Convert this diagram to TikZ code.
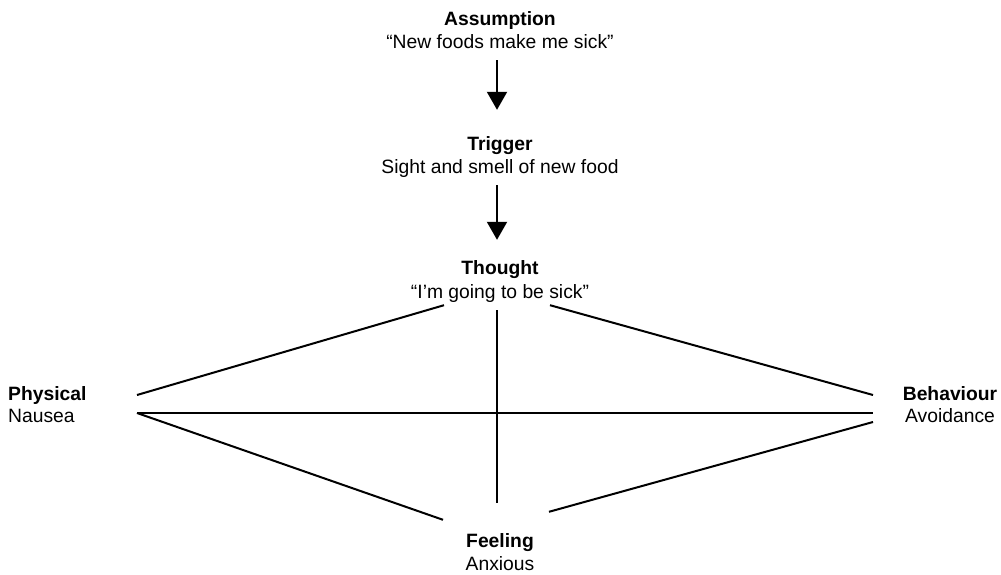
\documentclass[tikz,border=0pt]{standalone}
\usepackage{fontspec}
\setmainfont{Liberation Sans}
\usetikzlibrary{arrows.meta}
\begin{document}
\begin{tikzpicture}[x=1pt,y=-1pt,
  txt/.style={inner sep=0pt, font=\fontsize{19.3}{23}\selectfont, text height=14pt, text depth=4pt},
  ttl/.style={txt, font=\fontsize{19.3}{23}\selectfont\bfseries},
  link/.style={line width=2pt},
  arr/.style={line width=2pt, -{Triangle[width=20pt,length=18pt]}}]
\useasboundingbox (0,0) rectangle (1001,575);
% nodes
\node[ttl, anchor=base] (assumT) at (500,26) {Assumption};
\node[txt, anchor=base] (assum) at (500,49) {“New foods make me sick”};
\node[ttl, anchor=base] (trigT) at (500,150) {Trigger};
\node[txt, anchor=base] (trig) at (500,173) {Sight and smell of new food};
\node[ttl, anchor=base] (thoughtT) at (500,274) {Thought};
\node[txt, anchor=base] (thought) at (500,298) {“I’m going to be sick”};
\node[ttl, anchor=base west] (physT) at (8,400) {Physical};
\node[txt, anchor=base west] (phys) at (8,422) {Nausea};
\node[ttl, anchor=base] (behavT) at (950,400) {Behaviour};
\node[txt, anchor=base] (behav) at (950,422) {Avoidance};
\node[ttl, anchor=base] (feelT) at (500,547) {Feeling};
\node[txt, anchor=base] (feel) at (500,570) {Anxious};
% arrows
\draw[arr] ([xshift=-3pt,yshift=-7pt]assum.south) -- ([xshift=-3pt,yshift=26pt]trigT.north);
\draw[arr] ([xshift=-3pt,yshift=-8pt]trig.south) -- ([xshift=-3pt,yshift=20pt]thoughtT.north);
% links
\draw[link] ([xshift=-56pt,yshift=-3pt]thought.south) -- ([xshift=129pt,yshift=5pt]physT.base west);
\draw[link] ([xshift=50pt,yshift=-3pt]thought.south) -- ([xshift=-77pt,yshift=5pt]behavT.base);
\draw[link] ([xshift=-3pt,yshift=-8pt]thought.south) -- ([xshift=-3pt,yshift=30pt]feelT.north);
\draw[link] ([xshift=129pt,yshift=9pt]phys.base west) -- ([xshift=-77pt,yshift=9pt]behav.base);
\draw[link] ([xshift=129pt,yshift=9pt]phys.base west) -- ([xshift=-57pt,yshift=13pt]feelT.north);
\draw[link] ([xshift=-77pt,yshift=0pt]behav.base) -- ([xshift=49pt,yshift=21pt]feelT.north);
\end{tikzpicture}
\end{document}
